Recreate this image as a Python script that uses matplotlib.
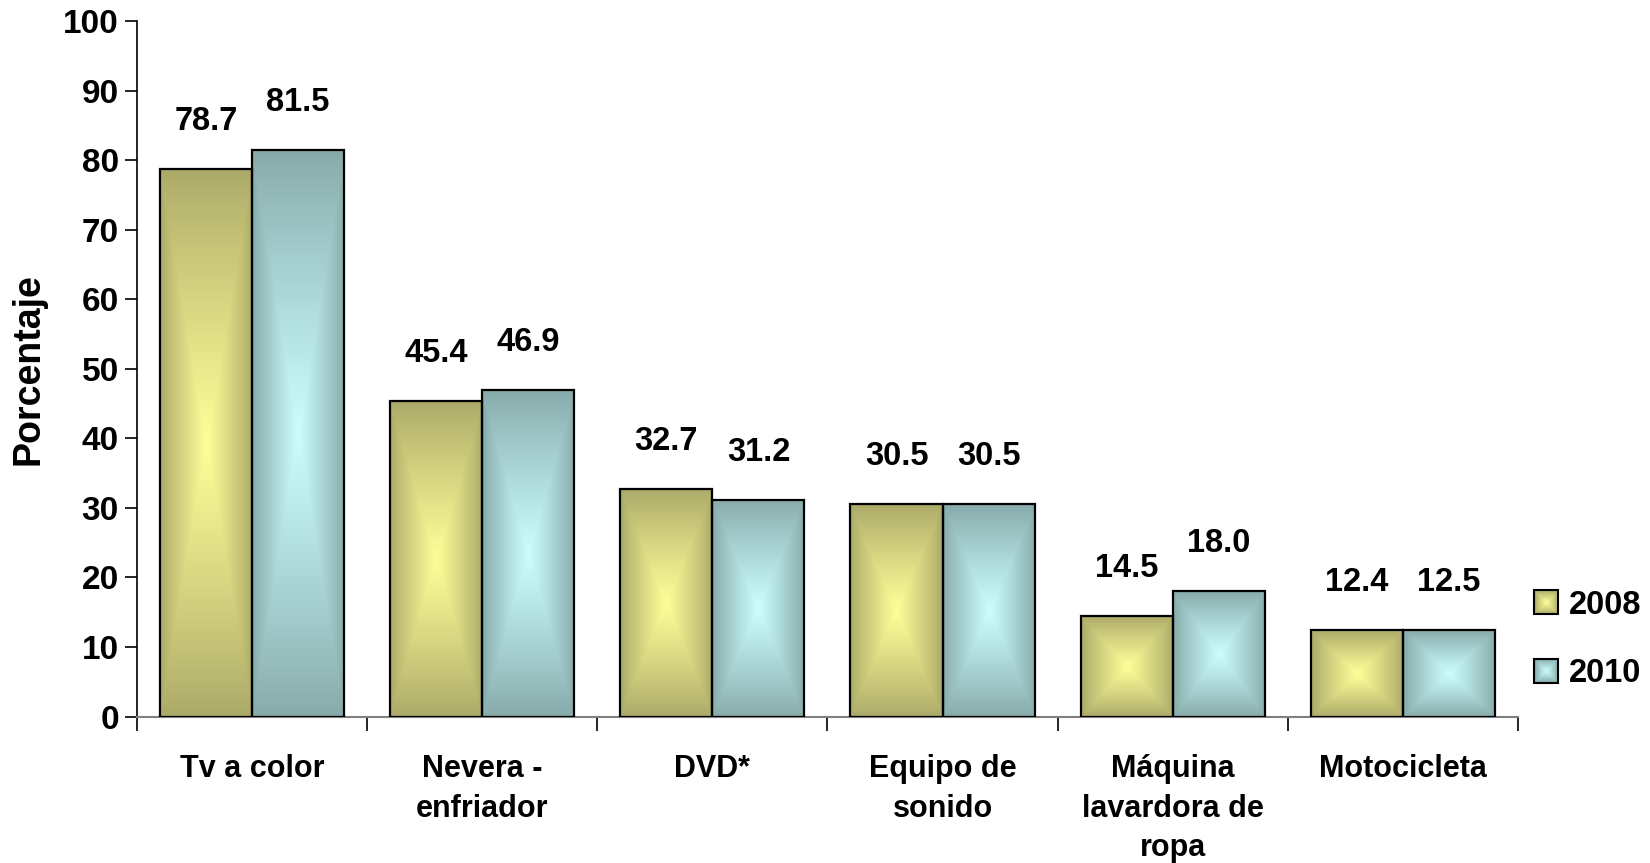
import numpy as np
import matplotlib
matplotlib.use("Agg")
import matplotlib.pyplot as plt
from matplotlib.patches import Rectangle
from matplotlib.legend_handler import HandlerBase
from matplotlib.colors import to_rgb

categories = ["Tv a color", "Nevera -\nenfriador", "DVD*", "Equipo de\nsonido",
              "Máquina\nlavardora de\nropa", "Motocicleta"]
series_names = ["2008", "2010"]
values_2008 = [78.7, 45.4, 32.7, 30.5, 14.5, 12.4]
values_2010 = [81.5, 46.9, 31.2, 30.5, 18.0, 12.5]
yticks = list(range(0, 101, 10))

edge_cols = ["#ABA968", "#87A9A9"]
center_cols = ["#FFFF99", "#CCFFFF"]

plt.rcParams['font.family'] = ['Liberation Sans', 'DejaVu Sans']
plt.rcParams['font.weight'] = 'bold'

fig = plt.figure(figsize=(16.5, 8.63), dpi=100)
ax = fig.add_axes([0.083, 0.1697, 0.837, 0.806])


def grad_img(edge, center, n=200):
    u = np.linspace(-1, 1, n)
    v = np.linspace(-1, 1, n)
    U, V = np.meshgrid(u, v)
    t = np.maximum(np.abs(U), np.abs(V))
    s = (1 - t) ** 0.9
    e = np.array(to_rgb(edge))
    c = np.array(to_rgb(center))
    return e[None, None, :] + (c - e)[None, None, :] * s[..., None]


width = 0.4
x = np.arange(len(categories))
for k, vals in enumerate([values_2008, values_2010]):
    img = grad_img(edge_cols[k], center_cols[k])
    offs = -width / 2 if k == 0 else width / 2
    bars = ax.bar(x + offs, vals, width, facecolor='none', edgecolor='black',
                  linewidth=1.6, zorder=3)
    for b, val in zip(bars, vals):
        x0, w, h = b.get_x(), b.get_width(), b.get_height()
        ax.imshow(img, extent=[x0, x0 + w, 0, h], aspect='auto', origin='lower',
                  interpolation='bilinear', zorder=2)
        ax.annotate(f"{val:.1f}", (x0 + w / 2, h), xytext=(0, 23),
                    textcoords='offset points', ha='center', va='bottom',
                    fontsize=23.5, fontweight='bold')

ax.set_xlim(-0.5, len(categories) - 0.5)
ax.set_ylim(0, 100)
ax.set_yticks(yticks)
ax.tick_params(axis='y', direction='out', length=9, width=1.2, labelsize=24, pad=4)
ax.set_xticks(np.arange(len(categories) + 1) - 0.5)
ax.set_xticklabels([])
ax.tick_params(axis='x', which='major', direction='out', length=10, width=1.2)
ax.set_xticks(x, minor=True)
ax.set_xticklabels(categories, minor=True, fontsize=22, fontweight='bold',
                   linespacing=1.42)
ax.tick_params(axis='x', which='minor', length=0, pad=27)
for lab in ax.get_yticklabels():
    lab.set_fontweight('bold')
ax.spines['top'].set_visible(False)
ax.spines['right'].set_visible(False)
ax.spines['bottom'].set_color('#808080')
ax.spines['bottom'].set_linewidth(1.5)
ax.spines['left'].set_linewidth(1.2)
ax.set_ylabel("Porcentaje", fontsize=27, fontweight='bold', labelpad=12)


class HandlerGrad(HandlerBase):
    def __init__(self, edge, center):
        super().__init__()
        self.edge = np.array(to_rgb(edge))
        self.center = np.array(to_rgb(center))

    def create_artists(self, legend, orig_handle, xdescent, ydescent, width,
                       height, fontsize, trans):
        size = min(width, height)
        cx = -xdescent + width / 2
        cy = -ydescent + height / 2
        arts = []
        n = 20
        for i in range(n):
            f = 1 - i / n
            s = f * size
            col = self.edge + (self.center - self.edge) * (1 - f) ** 0.9
            r = Rectangle((cx - s / 2, cy - s / 2), s, s, facecolor=col,
                          edgecolor='none', transform=trans)
            arts.append(r)
        arts.append(Rectangle((cx - size / 2, cy - size / 2), size, size,
                              facecolor='none', edgecolor='black', lw=1.5,
                              transform=trans))
        return arts


h1 = Rectangle((0, 0), 1, 1)
h2 = Rectangle((0, 0), 1, 1)
leg = fig.legend([h1, h2], series_names, loc='center left',
                 bbox_to_anchor=(0.912, 0.259), frameon=False,
                 prop={'size': 23.5, 'weight': 'bold'},
                 handler_map={h1: HandlerGrad(edge_cols[0], center_cols[0]),
                              h2: HandlerGrad(edge_cols[1], center_cols[1])},
                 handlelength=0.75, handleheight=0.75, handletextpad=0.3,
                 labelspacing=1.15)

fig.savefig("out.png", dpi=100)
